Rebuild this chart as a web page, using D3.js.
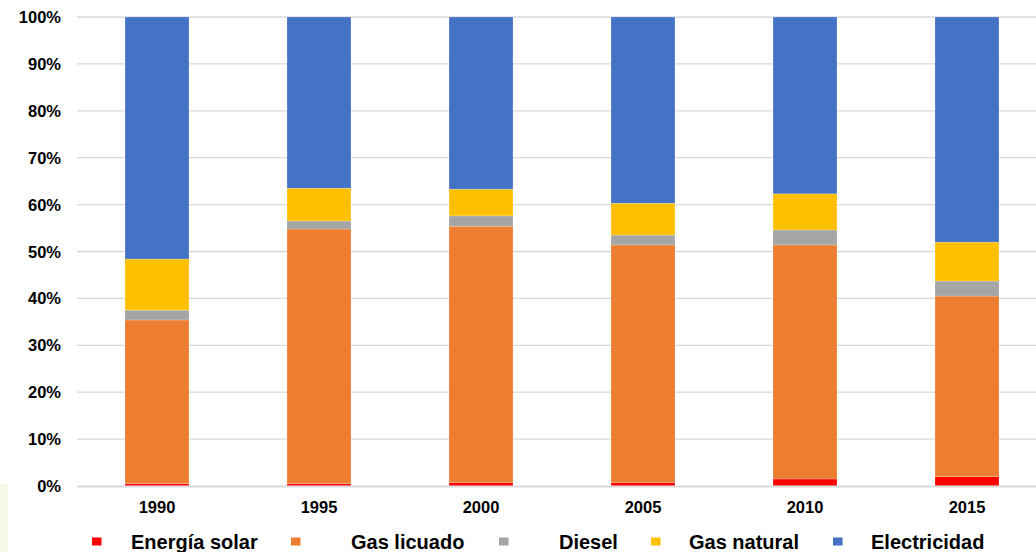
<!DOCTYPE html>
<html>
<head>
<meta charset="utf-8">
<script src="https://cdn.jsdelivr.net/npm/d3@7"></script>
<style>
  html, body { margin: 0; padding: 0; background: #fff; }
  svg { display: block; font-family: "Liberation Sans", Arial, sans-serif; }
</style>
</head>
<body>
<svg id="chart" width="1036" height="552"></svg>
<script>
// ---- data ----
const years = ["1990", "1995", "2000", "2005", "2010", "2015"];
const seriesNames = ["Energía solar", "Gas licuado", "Diesel", "Gas natural", "Electricidad"];
const seriesColors = ["#FF0000", "#ED7D31", "#A5A5A5", "#FFC000", "#4472C4"];
const energiaSolar = [0.5, 0.5, 0.7, 0.7, 1.5, 2.0];
const gasLicuado   = [34.9, 54.3, 54.7, 50.7, 49.9, 38.5];
const diesel       = [2.1, 1.7, 2.2, 2.1, 3.2, 3.2];
const gasNatural   = [10.9, 7.0, 5.7, 6.8, 7.7, 8.3];
const electricidad = [51.6, 36.5, 36.7, 39.7, 37.7, 48.0];
const yTicks = [0, 10, 20, 30, 40, 50, 60, 70, 80, 90, 100];

// ---- layout ----
const svg = d3.select("#chart");
const seriesValues = [energiaSolar, gasLicuado, diesel, gasNatural, electricidad];

// pale background patch at bottom-left
svg.append("rect").attr("x", 0).attr("y", 484).attr("width", 8).attr("height", 68).attr("fill", "#f4f8e4");

const x = d3.scaleBand().domain(years).range([76, 1048]).paddingInner(0.605).paddingOuter(0.3025);
const y = d3.scaleLinear().domain([0, 100]).range([486, 17]);

// gridlines
svg.append("g").selectAll("line").data(yTicks.filter(t => t > 0)).join("line")
  .attr("x1", 77).attr("x2", 1036)
  .attr("y1", d => y(d)).attr("y2", d => y(d))
  .attr("stroke", "#d9d9d9").attr("stroke-width", 1.3);

// stacked data
const rows = years.map((yr, i) => {
  const o = { year: yr };
  seriesNames.forEach((s, k) => o[s] = seriesValues[k][i]);
  return o;
});
const stack = d3.stack().keys(seriesNames)(rows);

svg.append("g").selectAll("g").data(stack).join("g")
  .attr("fill", (d, k) => seriesColors[k])
  .selectAll("rect").data(d => d).join("rect")
  .attr("x", d => x(d.data.year))
  .attr("width", x.bandwidth())
  .attr("y", d => y(d[1]))
  .attr("height", d => y(d[0]) - y(d[1]))
  .attr("stroke", "#ffffff").attr("stroke-width", 0.6).attr("stroke-opacity", 0.35);

// baseline axis
svg.append("line").attr("x1", 77).attr("x2", 1036).attr("y1", y(0) + 0.5).attr("y2", y(0) + 0.5)
  .attr("stroke", "#d9d9d9").attr("stroke-width", 1.8);

// y labels
svg.append("g").selectAll("text").data(yTicks).join("text")
  .attr("x", 61).attr("y", d => y(d))
  .attr("text-anchor", "end").attr("dominant-baseline", "central")
  .attr("font-size", 16.5).attr("font-weight", "bold").attr("fill", "#000")
  .text(d => d + "%");

// x labels
svg.append("g").selectAll("text").data(years).join("text")
  .attr("x", d => x(d) + x.bandwidth() / 2).attr("y", 507)
  .attr("text-anchor", "middle").attr("dominant-baseline", "central")
  .attr("font-size", 16.5).attr("font-weight", "bold").attr("fill", "#000")
  .text(d => d);

// legend
const legendMarkerX = [92, 291, 499, 651, 833];
const legendTextX = [131, 351, 559, 689, 871];
const lg = svg.append("g").selectAll("g").data(seriesNames).join("g");
lg.append("rect")
  .attr("x", (d, i) => legendMarkerX[i]).attr("y", 537.5)
  .attr("width", 9.5).attr("height", 8)
  .attr("fill", (d, i) => seriesColors[i]);
lg.append("text")
  .attr("x", (d, i) => legendTextX[i]).attr("y", 548.5)
  .attr("font-size", 20).attr("font-weight", "bold").attr("fill", "#000")
  .text(d => d);
</script>
</body>
</html>
